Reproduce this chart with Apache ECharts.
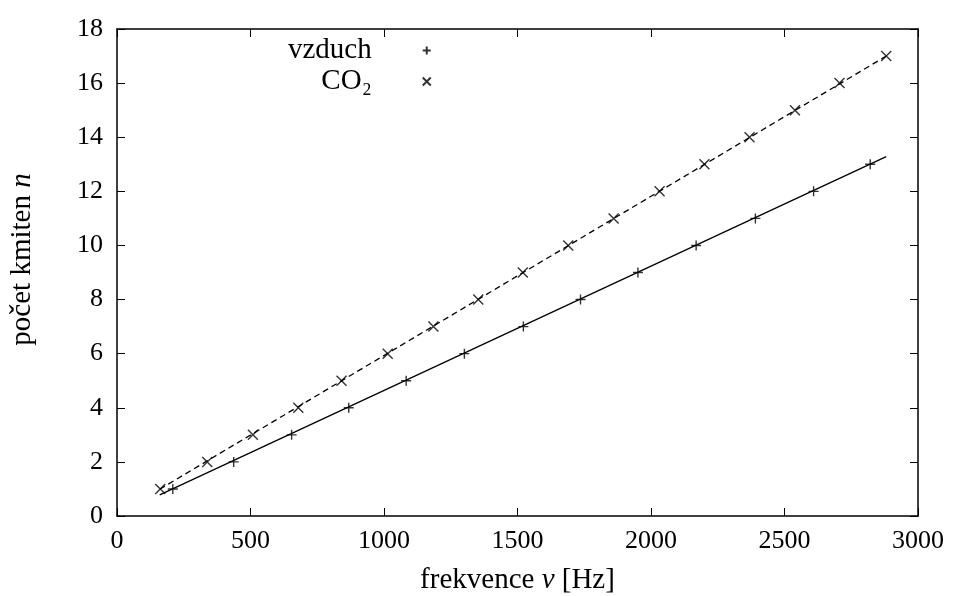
<!DOCTYPE html>
<html><head><meta charset="utf-8">
<script src="https://cdn.jsdelivr.net/npm/echarts@6/dist/echarts.min.js"></script>
<style>html,body{margin:0;padding:0;background:#fff}#c{width:956px;height:596px}</style>
</head><body><div id="c"></div>
<script>
// measured data
const airFreq = [209, 437, 654, 868, 1083, 1301, 1522, 1736, 1951, 2169, 2391, 2609, 2821];
const airN    = [1, 2, 3, 4, 5, 6, 7, 8, 9, 10, 11, 12, 13];
const co2Freq = [162, 338, 509, 679, 841, 1014, 1185, 1353, 1520, 1690, 1860, 2032, 2200, 2369, 2539, 2706, 2881];
const co2N    = [1, 2, 3, 4, 5, 6, 7, 8, 9, 10, 11, 12, 13, 14, 15, 16, 17];
// fitted lines (end points)
const fitFreq = [160, 2881];
const airFitN = [0.78, 13.28];
const co2FitN = [0.99, 17.0];
const xTicks = [0, 500, 1000, 1500, 2000, 2500, 3000];
const yTicks = [0, 2, 4, 6, 8, 10, 12, 14, 16, 18];

const FONT = '"Liberation Serif", "DejaVu Serif", serif';
const FS = 26;
const TFS = 29;
const pair = (xs, ys) => xs.map((x, i) => [x, ys[i]]);
const PLUS = 'path://M5,0L5,10M0,5L10,5';
const CROSS = 'path://M0,0L10,10M0,10L10,0';

function axisCommon() {
  return {
    type: 'value',
    axisLine: {show: true, onZero: false, lineStyle: {color: '#000', width: 1.5}},
    axisTick: {show: true, inside: true, length: 8, lineStyle: {color: '#000', width: 1}},
    splitLine: {show: false}
  };
}

const chart = echarts.init(document.getElementById('c'));
chart.setOption({
  animation: false,
  backgroundColor: '#fff',
  grid: {left: 117, right: 38, top: 29, bottom: 80, containLabel: false, outerBoundsMode: 'none'},
  xAxis: [
    Object.assign(axisCommon(), {
      min: xTicks[0], max: xTicks[xTicks.length - 1], interval: 500, position: 'bottom',
      name: 'frekvence {i|ν} [Hz]', nameLocation: 'middle', nameGap: 50,
      nameTextStyle: {fontFamily: FONT, fontSize: TFS, color: '#000',
        rich: {i: {fontFamily: FONT, fontSize: TFS, fontStyle: 'italic', color: '#000'}}},
      axisLabel: {fontFamily: FONT, fontSize: FS, color: '#000', margin: 12,
        formatter: v => String(v)}
    }),
    Object.assign(axisCommon(), {
      min: xTicks[0], max: xTicks[xTicks.length - 1], interval: 500, position: 'top',
      axisLabel: {show: false}
    })
  ],
  yAxis: [
    Object.assign(axisCommon(), {
      min: yTicks[0], max: yTicks[yTicks.length - 1], interval: 2, position: 'left',
      name: 'počet kmiten {i|n}', nameLocation: 'middle', nameGap: 80,
      nameTextStyle: {fontFamily: FONT, fontSize: TFS, color: '#000', padding: [0, 0, 0, 26],
        rich: {i: {fontFamily: FONT, fontSize: TFS, fontStyle: 'italic', color: '#000'}}},
      axisLabel: {fontFamily: FONT, fontSize: FS, color: '#000', margin: 14,
        formatter: v => String(v)}
    }),
    Object.assign(axisCommon(), {
      min: yTicks[0], max: yTicks[yTicks.length - 1], interval: 2, position: 'right',
      axisLabel: {show: false}
    })
  ],
  legend: {
    data: ['vzduch', 'CO₂'],
    orient: 'vertical',
    left: 283, top: 31,
    align: 'right',
    itemGap: 2,
    itemWidth: 8, itemHeight: 8,
    textStyle: {fontFamily: FONT, fontSize: TFS, color: '#000', width: 100, align: 'right', padding: [0, 46, 0, 0]}
  },
  series: [
    {
      name: 'vzduch', type: 'scatter', data: pair(airFreq, airN),
      symbol: PLUS, symbolSize: 10,
      itemStyle: {color: 'none', borderColor: '#000', borderWidth: 1.4}, z: 5
    },
    {
      name: 'CO₂', type: 'scatter', data: pair(co2Freq, co2N),
      symbol: CROSS, symbolSize: 10,
      itemStyle: {color: 'none', borderColor: '#000', borderWidth: 1.4}, z: 5
    },
    {
      name: 'fit vzduch', type: 'line', data: pair(fitFreq, airFitN), showSymbol: false,
      lineStyle: {color: '#000', width: 1.3, type: 'solid'}, silent: true
    },
    {
      name: 'fit CO₂', type: 'line', data: pair(fitFreq, co2FitN), showSymbol: false,
      lineStyle: {color: '#000', width: 1.3, type: [6, 4]}, silent: true
    }
  ]
});
</script></body></html>
